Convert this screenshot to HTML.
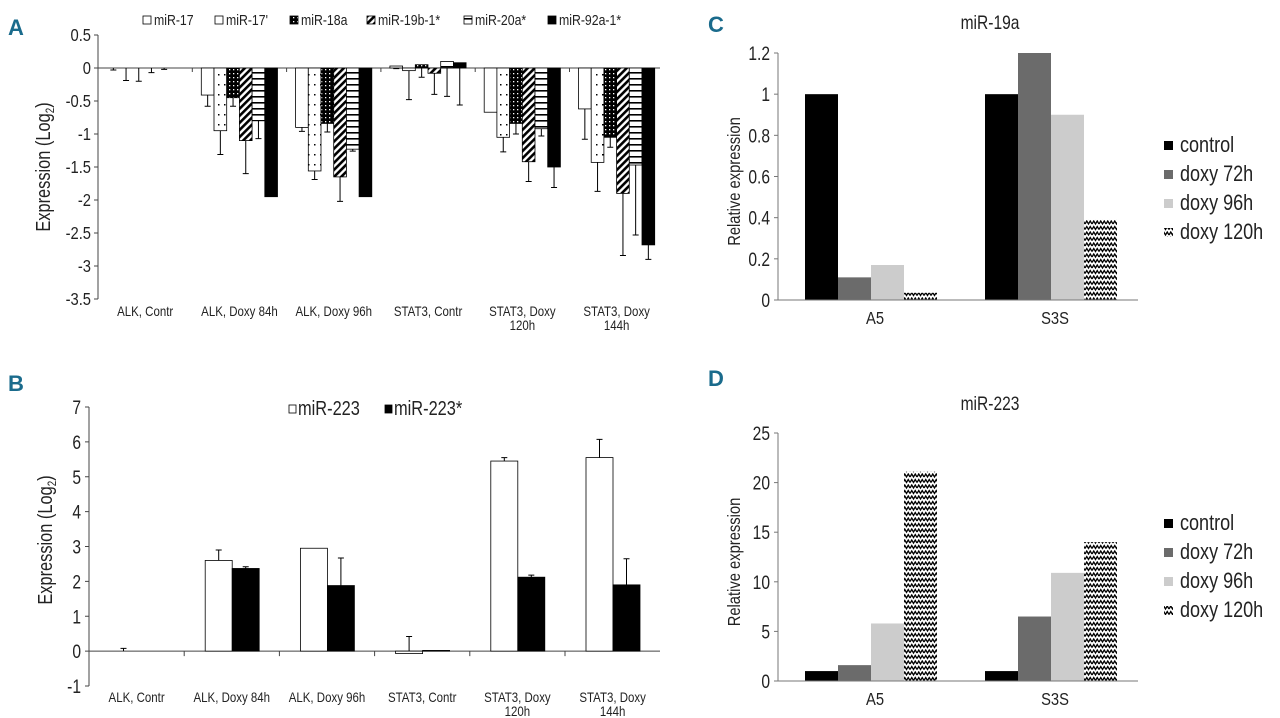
<!DOCTYPE html>
<html><head><meta charset="utf-8"><style>
html,body{margin:0;padding:0;background:#fff;}
svg{display:block;font-family:"Liberation Sans Narrow","Liberation Sans",sans-serif;}
</style></head><body>
<svg id="fig" width="1280" height="718" viewBox="0 0 1280 718" xmlns="http://www.w3.org/2000/svg">
<defs>
<pattern id="pDots" width="6" height="10" patternUnits="userSpaceOnUse"><rect width="6" height="10" fill="#fff"/><rect x="2" y="4" width="1.5" height="1.5" fill="#000"/></pattern>
<pattern id="pBlackDots" width="4" height="4" patternUnits="userSpaceOnUse"><rect width="4" height="4" fill="#000"/><rect x="1" y="1" width="1.3" height="1.3" fill="#fff"/></pattern>
<pattern id="pDiag" width="5" height="5" patternUnits="userSpaceOnUse" patternTransform="rotate(-45)"><rect width="5" height="5" fill="#fff"/><rect width="5" height="2.6" fill="#000"/></pattern>
<pattern id="pHoriz" width="6" height="6" patternUnits="userSpaceOnUse"><rect width="6" height="6" fill="#fff"/><rect y="0" width="6" height="1.6" fill="#000"/></pattern>
<pattern id="pZig" width="7" height="5.5" patternUnits="userSpaceOnUse"><rect width="7" height="5.5" fill="#fff"/><path d="M0,4 L1.75,1 L3.5,4 L5.25,1 L7,4" fill="none" stroke="#000" stroke-width="1.3"/></pattern>
</defs>
<g font-family="Liberation Sans" font-weight="bold" fill="#1a6b8c" font-size="22">
<text x="8" y="35">A</text>
<text x="8" y="391">B</text>
<text x="708" y="32">C</text>
<text x="708" y="386">D</text>
</g>
<g id="A"></g>
<g id="B"></g>
<g id="C"></g>
<g id="D"></g>
</svg>
<script>
// ---- Panel A data ----
const aCategories = ["ALK, Contr","ALK, Doxy 84h","ALK, Doxy 96h","STAT3, Contr","STAT3, Doxy|120h","STAT3, Doxy|144h"];
const aSeriesNames = ["miR-17","miR-17'","miR-18a","miR-19b-1*","miR-20a*","miR-92a-1*"];
const aMiR17 = [0, -0.41, -0.9, 0.03, -0.67, -0.62];
const aMiR17s = [0, -0.95, -1.56, -0.04, -1.05, -1.43];
const aMiR18a = [0, -0.45, -0.84, 0.05, -0.84, -1.05];
const aMiR19b = [0, -1.1, -1.65, -0.08, -1.42, -1.9];
const aMiR20a = [0, -0.8, -1.23, 0.1, -0.92, -1.47];
const aMiR92a = [0, -1.95, -1.95, 0.08, -1.5, -2.68];
const aErr17 = [-0.03, -0.58, -0.96, -0.01, -0.67, -1.08];
const aErr17s = [-0.19, -1.31, -1.69, -0.48, -1.27, -1.87];
const aErr18a = [-0.2, -0.58, -0.97, -0.14, -1.0, -1.2];
const aErr19b = [-0.07, -1.6, -2.02, -0.4, -1.72, -2.84];
const aErr20a = [-0.02, -1.07, -1.26, -0.43, -1.03, -2.53];
const aErr92a = [0, -1.95, -1.95, -0.56, -1.81, -2.9];
const aTicks = ["0.5","0","-0.5","-1","-1.5","-2","-2.5","-3","-3.5"];
// ---- Panel B data ----
const bSeriesNames = ["miR-223","miR-223*"];
const bMiR223 = [0, 2.6, 2.95, -0.07, 5.45, 5.55];
const bMiR223s = [0, 2.37, 1.88, 0.02, 2.12, 1.9];
const bErr223 = [0.08, 2.9, 2.95, 0.42, 5.55, 6.07];
const bErr223s = [0, 2.42, 2.67, 0.02, 2.18, 2.65];
const bTicks = ["7","6","5","4","3","2","1","0","-1"];
// ---- Panel C/D data ----
const cdCategories = ["A5","S3S"];
const cdSeriesNames = ["control","doxy 72h","doxy 96h","doxy 120h"];
const cControl = [1, 1];
const c72 = [0.11, 1.2];
const c96 = [0.17, 0.9];
const c120 = [0.035, 0.39];
const cTicks = ["1.2","1","0.8","0.6","0.4","0.2","0"];
const dControl = [1, 1];
const d72 = [1.6, 6.5];
const d96 = [5.8, 10.9];
const d120 = [21.1, 14];
const dTicks = ["25","20","15","10","5","0"];

const NS="http://www.w3.org/2000/svg";
function mk(parent, tag, attrs, text){
  const e=document.createElementNS(NS,tag);
  for(const k in attrs) e.setAttribute(k,attrs[k]);
  if(text!==undefined) e.textContent=text;
  parent.appendChild(e); return e;
}
function yScale(v0,v1,p0,p1){ return v=>p0+(v-v0)*(p1-p0)/(v1-v0); }

// ---------- Panel A ----------
(function(){
  const g=document.getElementById('A');
  const y=yScale(0.5,-3.5,35,299);
  const x0=98, catW=94.3, pad=9, bw=12.7;
  const vals=[aMiR17,aMiR17s,aMiR18a,aMiR19b,aMiR20a,aMiR92a];
  const errs=[aErr17,aErr17s,aErr18a,aErr19b,aErr20a,aErr92a];
  const fills=["#fff","url(#pDots)","url(#pBlackDots)","url(#pDiag)","url(#pHoriz)","#000"];
  let ax=mk(g,'line',{x1:x0,y1:35,x2:x0,y2:299,stroke:'#444','stroke-width':1});
   
  aTicks.forEach(t=>{
    const v=parseFloat(t), yy=y(v);
    mk(g,'line',{x1:x0-4,y1:yy,x2:x0,y2:yy,stroke:'#444'});
    const tx=mk(g,'text',{x:x0-7,y:yy+6,'text-anchor':'end','font-size':18,fill:'#222'},t);
     
  });
  const y0=y(0);
  let xa=mk(g,'line',{x1:x0,y1:y0,x2:660,y2:y0,stroke:'#444'});
   
  aCategories.forEach((c,i)=>{
    const cx=x0+catW*i;
    if(i>0) mk(g,'line',{x1:cx,y1:y0,x2:cx,y2:y0+4,stroke:'#444'});
    const lines=c.split('|');
    lines.forEach((ln,j)=>{
      const t=mk(g,'text',{x:cx+catW/2,y:316+j*14,'text-anchor':'middle','font-size':14,fill:'#222'},ln);
       
    });
    vals.forEach((s,k)=>{
      const bx=cx+pad+k*bw, v=s[i];
      const top=Math.min(y(v),y0), h=Math.abs(y(v)-y0);
      const e=errs[k][i];
      if(Math.abs(e-v)>0.005){
        const el=mk(g,'path',{d:`M${bx+bw/2},${y(v)} L${bx+bw/2},${y(e)} M${bx+bw/2-3},${y(e)} L${bx+bw/2+3},${y(e)}`,stroke:'#000','stroke-width':1,fill:'none'});
         
      }
      if(h>0.3){
        const r=mk(g,'rect',{x:bx,y:top,width:bw,height:h,fill:fills[k],stroke:'#000','stroke-width':0.8});
         
      }
    });
  });
  const lx=[143,215,290,367,464,548];
  aSeriesNames.forEach((n,k)=>{
    const sw=mk(g,'rect',{x:lx[k],y:16,width:8,height:8,fill:fills[k],stroke:'#000','stroke-width':0.8});
     
    const t=mk(g,'text',{x:lx[k]+11,y:25,'font-size':15,fill:'#222'},n);
     
  });
  const yt=mk(g,'text',{x:0,y:0,transform:'translate(50,167) rotate(-90)','text-anchor':'middle','font-size':20,fill:'#222'});
   
  yt.innerHTML='Expression (Log<tspan font-size="12" dy="4">2</tspan><tspan dy="-4">)</tspan>';
})();

// ---------- Panel B ----------
(function(){
  const g=document.getElementById('B');
  const y=yScale(7,-1,407,686);
  const x0=89, catW=95.2, off=21, bw=27;
  let ax=mk(g,'line',{x1:x0,y1:407,x2:x0,y2:686,stroke:'#444'});
   
  bTicks.forEach(t=>{
    const yy=y(parseFloat(t));
    mk(g,'line',{x1:x0-4,y1:yy,x2:x0,y2:yy,stroke:'#444'});
    const tx=mk(g,'text',{x:x0-8,y:yy+7,'text-anchor':'end','font-size':19,fill:'#222'},t);
     
  });
  const y0=y(0);
  let xa=mk(g,'line',{x1:x0,y1:y0,x2:660,y2:y0,stroke:'#444'});
   
  const vals=[bMiR223,bMiR223s], errs=[bErr223,bErr223s], fills=['#fff','#000'];
  aCategories.forEach((c,i)=>{
    const cx=x0+catW*i;
    if(i>0) mk(g,'line',{x1:cx,y1:y0,x2:cx,y2:y0+5,stroke:'#444'});
    c.split('|').forEach((ln,j)=>{
      const t=mk(g,'text',{x:cx+catW/2,y:702+j*14,'text-anchor':'middle','font-size':14,fill:'#222'},ln);
       
    });
    vals.forEach((s,k)=>{
      const bx=cx+off+k*bw, v=s[i], e=errs[k][i];
      if(Math.abs(e-v)>0.005){
        const el=mk(g,'path',{d:`M${bx+bw/2},${y(v)} L${bx+bw/2},${y(e)} M${bx+bw/2-3},${y(e)} L${bx+bw/2+3},${y(e)}`,stroke:'#000',fill:'none'});
         
      }
      const top=Math.min(y(v),y0), h=Math.abs(y(v)-y0);
      if(h>0.3){
        const r=mk(g,'rect',{x:bx,y:top,width:bw,height:h,fill:fills[k],stroke:'#000','stroke-width':0.8});
         
      }
    });
  });
  const lx=[289,385];
  bSeriesNames.forEach((n,k)=>{
    const sw=mk(g,'rect',{x:lx[k],y:405,width:7,height:8,fill:fills[k],stroke:'#000','stroke-width':0.8});
     
    const t=mk(g,'text',{x:lx[k]+9,y:415,'font-size':20,fill:'#222'},n);
     
  });
  const yt=mk(g,'text',{x:0,y:0,transform:'translate(52,540) rotate(-90)','text-anchor':'middle','font-size':20,fill:'#222'});
   
  yt.innerHTML='Expression (Log<tspan font-size="12" dy="4">2</tspan><tspan dy="-4">)</tspan>';
})();

// ---------- Panels C, D ----------
function cdPanel(id, series, ticks, vmax, yTop, yBot, title, titleY, legY, prefix){
  const g=document.getElementById(id);
  const y=yScale(0,vmax,yBot,yTop);
  const x0=778, x1=1138, catW=(x1-x0)/2, pad=27, bw=33;
  const fills=['#000','#6b6b6b','#cccccc','url(#pZig)'];
  let ax=mk(g,'line',{x1:x0,y1:yTop,x2:x0,y2:yBot,stroke:'#777'});
   
  ticks.forEach(t=>{
    const yy=y(parseFloat(t));
    mk(g,'line',{x1:x0-4,y1:yy,x2:x0,y2:yy,stroke:'#777'});
    const tx=mk(g,'text',{x:x0-8,y:yy+7,'text-anchor':'end','font-size':19,fill:'#222'},t);
     
  });
  cdCategories.forEach((c,i)=>{
    const cx=x0+catW*i;
    const t=mk(g,'text',{x:cx+pad+2*bw+4,y:yBot+24,'text-anchor':'middle','font-size':18,fill:'#222'},c);
     
    series.forEach((s,k)=>{
      const v=s[i];
      const r=mk(g,'rect',{x:cx+pad+k*bw,y:y(v),width:bw,height:yBot-y(v),fill:fills[k]});
       
    });
  });
  let xa=mk(g,'line',{x1:x0,y1:yBot,x2:x1,y2:yBot,stroke:'#777'});
   
  const tt=mk(g,'text',{x:990,y:titleY,'text-anchor':'middle','font-size':19,fill:'#222'},title);
   
  cdSeriesNames.forEach((n,k)=>{
    const yy=legY+k*29;
    const sw=mk(g,'rect',{x:1164,y:yy-11,width:9,height:9,fill:fills[k]});
     
    const t=mk(g,'text',{x:1180,y:yy,'font-size':22,fill:'#222'},n);
     
  });
  const yt=mk(g,'text',{x:0,y:0,transform:`translate(740,${(yTop+yBot)/2+5}) rotate(-90)`,'text-anchor':'middle','font-size':18,fill:'#222'},'Relative expression');
   
}
cdPanel('C',[cControl,c72,c96,c120],cTicks,1.2,53,300,'miR-19a',29,152,'c');
cdPanel('D',[dControl,d72,d96,d120],dTicks,25,433,681,'miR-223',410,530,'d');

// condense all chart text horizontally to mimic narrow typeface
document.querySelectorAll('#A text, #B text, #C text, #D text').forEach(t=>{
  const tr=t.getAttribute('transform');
  if(tr){ t.setAttribute('transform', tr+' scale(0.82,1)'); }
  else {
    const x=t.getAttribute('x'), y=t.getAttribute('y');
    t.setAttribute('x',0); t.setAttribute('y',0);
    t.setAttribute('transform',`translate(${x},${y}) scale(0.82,1)`);
  }
});
</script>
</body></html>
